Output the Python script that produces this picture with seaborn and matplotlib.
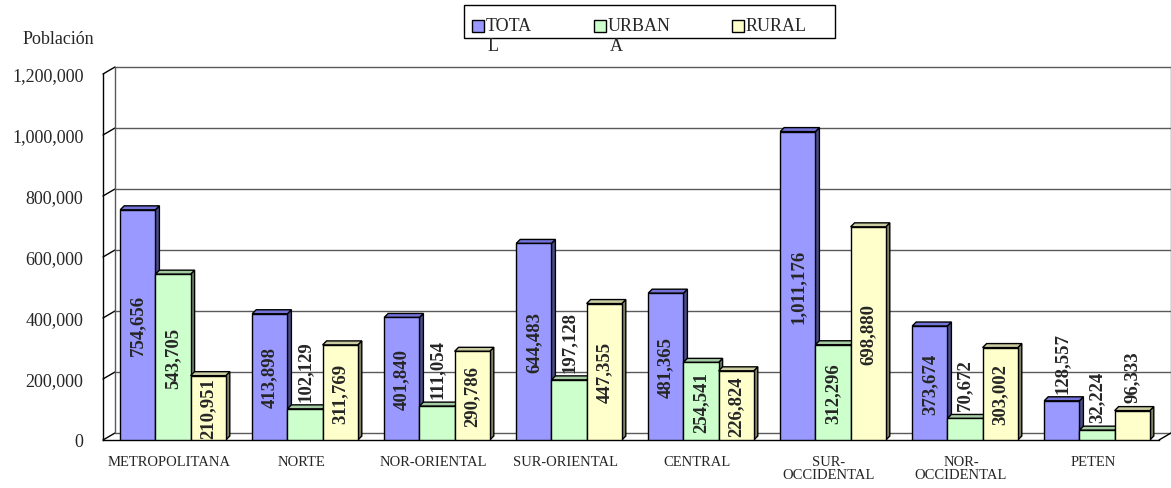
import matplotlib
matplotlib.use('Agg')
import matplotlib.pyplot as plt
from matplotlib.patches import Polygon, Rectangle
import pandas as pd
import seaborn as sns

# Datos de población por región
regiones = ['METROPOLITANA', 'NORTE', 'NOR-ORIENTAL', 'SUR-ORIENTAL', 'CENTRAL',
            'SUR-\nOCCIDENTAL', 'NOR-\nOCCIDENTAL', 'PETEN']
total = [754656, 413898, 401840, 644483, 481365, 1011176, 373674, 128557]
urbana = [543705, 102129, 111054, 197128, 254541, 312296, 70672, 32224]
rural = [210951, 311769, 290786, 447355, 226824, 698880, 303002, 96333]
series = ['TOTAL', 'URBANA', 'RURAL']
leyenda = [('TOTA', 'L'), ('URBAN', 'A'), ('RURAL', '')]
y_ticks = [0, 200000, 400000, 600000, 800000, 1000000, 1200000]

colores = ['#9999FF', '#CCFFCC', '#FFFFCC']
lados = ['#4D4D8C', '#6B806B', '#80806B']
techos = ['#7373D9', '#A3CCA3', '#CCCCA3']

df = pd.DataFrame({
    'region': regiones * 3,
    'poblacion': total + urbana + rural,
    'serie': [s for s in series for _ in regiones],
})

sns.set_style('white')
plt.rcParams['font.family'] = ['Liberation Serif', 'DejaVu Serif']

W, H = 1171, 489
fig = plt.figure(figsize=(W / 100, H / 100), dpi=100)
ax = fig.add_axes([103 / W, (H - 441) / H, 1056 / W, 366 / H])

sns.barplot(data=df, x='region', y='poblacion', hue='serie', palette=colores,
            edgecolor='black', linewidth=1, saturation=1, legend=False, ax=ax)
ax.set_xlim(-0.5, 7.5)
ax.set_ylim(0, 1200000)
ax.set_xlabel('')
ax.set_ylabel('')

# pixeles por unidad de datos
p0 = ax.transData.transform((0, 0))
p1 = ax.transData.transform((1, 1e6))
ux = p1[0] - p0[0]
uy = (p1[1] - p0[1]) / 1e6

# pared del fondo (efecto 3D)
wx, wy = 12 / ux, 7 / uy
gris = '#5a5a5a'
for v in y_ticks:
    ax.plot([-0.5 + wx, 7.5 + wx], [v + wy, v + wy], color=gris, lw=1, zorder=0.5, clip_on=False)
    ax.plot([-0.5, -0.5 + wx], [v, v + wy], color='black', lw=1, zorder=0.5, clip_on=False)
ax.plot([-0.5 + wx] * 2, [wy, 1200000 + wy], color=gris, lw=1, zorder=0.5, clip_on=False)
ax.plot([7.5 + wx] * 2, [wy, 1200000 + wy], color=gris, lw=1, zorder=0.5, clip_on=False)
ax.plot([7.5, 7.5 + wx], [0, wy], color='black', lw=1, zorder=0.5, clip_on=False)

# caras laterales y superiores de las barras (barras un poco hacia el fondo)
dx, dy = 4 / ux, 4 / uy
corr = 4 / ux
for h, cont in enumerate(ax.containers):
    for bar in cont:
        bar.set_x(bar.get_x() + corr)
        x, w, alto = bar.get_x(), bar.get_width(), bar.get_height()
        bar.set_zorder(3 + 2 * h)
        lado = Polygon([(x + w, 0), (x + w, alto), (x + w + dx, alto + dy), (x + w + dx, dy)],
                       closed=True, facecolor=lados[h], edgecolor='black', lw=1, zorder=2.5 + 2 * h)
        techo = Polygon([(x, alto), (x + w, alto), (x + w + dx, alto + dy), (x + dx, alto + dy)],
                        closed=True, facecolor=techos[h], edgecolor='black', lw=1, zorder=2.5 + 2 * h)
        ax.add_patch(lado)
        ax.add_patch(techo)
        texto = f'{int(round(alto)):,}'
        cx = x + w / 2
        if alto < 200000:
            ax.annotate(texto, (cx, alto + dy), xytext=(0, 3), textcoords='offset points',
                        rotation=90, ha='center', va='bottom', fontsize=13.5,
                        fontweight='bold', zorder=10)
        else:
            ax.text(cx, alto / 2, texto, rotation=90, ha='center', va='center',
                    fontsize=13.5, fontweight='bold', zorder=10)

# ejes
for s in ['top', 'right']:
    ax.spines[s].set_visible(False)
for s in ['left', 'bottom']:
    ax.spines[s].set_color('black')
    ax.spines[s].set_linewidth(1)
ax.set_yticks(y_ticks)
ax.set_yticklabels([f'{v:,}' for v in y_ticks])
ax.tick_params(axis='y', direction='out', length=5, width=1, color='black', labelsize=13, pad=9)
ax.set_xticks(range(len(regiones)))
ax.set_xticklabels(regiones, fontsize=10.5, linespacing=1.0)
ax.set_xticks([i - 0.5 for i in range(len(regiones) + 1)], minor=True)
ax.tick_params(axis='x', which='major', length=0, pad=11)
ax.tick_params(axis='x', which='minor', direction='out', length=6, width=1, color='black')
ax.grid(False)

fig.text(23 / W, 1 - 44 / H, 'Población', fontsize=13, va='baseline', ha='left')

# leyenda
fig.add_artist(Rectangle((464 / W, 1 - 39 / H), (835 - 464) / W, 33 / H,
                         transform=fig.transFigure, fill=False, edgecolor='black', lw=1))
pos_x = [472, 594, 732]
for i, (l1, l2) in enumerate(leyenda):
    fig.add_artist(Rectangle((pos_x[i] / W, 1 - 33 / H), 12 / W, 12 / H,
                             transform=fig.transFigure, facecolor=colores[i],
                             edgecolor='black', lw=1))
    fig.text((pos_x[i] + 14) / W, 1 - 31 / H, l1, fontsize=13, va='baseline', ha='left')
    if l2:
        fig.text((pos_x[i] + 16) / W, 1 - 51 / H, l2, fontsize=13, va='baseline', ha='left')

fig.savefig('out.png', dpi=100)
